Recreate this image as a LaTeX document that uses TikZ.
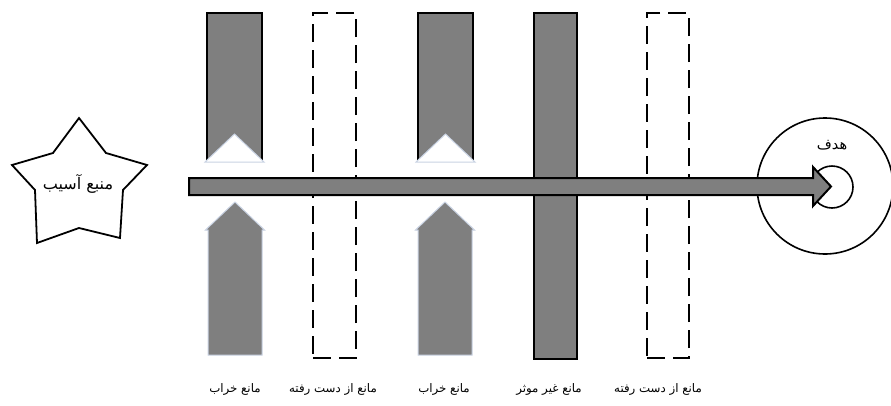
\documentclass[tikz,border=0pt]{standalone}
\usepackage{fontspec}
\usetikzlibrary{calc}
\newfontfamily\arabicfont[Script=Arabic]{DejaVu Sans}
\TeXXeTstate=1
\definecolor{bargray}{HTML}{7F7F7F}
\definecolor{edgeblue}{HTML}{C9D3E3}
\tikzset{
  topbar/.style={fill=bargray, draw=black, line width=2pt},
  notch/.style={fill=white, draw=edgeblue, line width=1pt},
  upbar/.style={fill=bargray, draw=edgeblue, line width=1pt},
  lostbox/.style={draw=black, line width=2.4pt, dash pattern=on 18pt off 8pt, fill=none},
  deadbar/.style={fill=bargray, draw=black, line width=2pt},
  mainarrow/.style={fill=bargray, draw=black, line width=2pt, line join=miter},
  ring/.style={draw=black, line width=1.6pt, fill=white},
  lab/.style={font=\arabicfont\fontsize{11.8}{14}\selectfont, inner sep=0pt},
  biglab/.style={font=\arabicfont\fontsize{14.5}{17}\selectfont, inner sep=0pt},
  starlab/.style={font=\arabicfont\fontsize{16}{19}\selectfont, inner sep=0pt}
}
\begin{document}
\begin{tikzpicture}[x=1pt,y=-1pt]
\useasboundingbox (0,0) rectangle (891,405);
% target
\node[ring, circle, minimum size=136pt, inner sep=0pt] (outer) at (825,186) {};
\node[ring, circle, minimum size=42pt, inner sep=0pt] (inner) at (832,187) {};
\node[biglab] (goal) at (832,145) {\beginR هدف\endR};
% source star
\draw[line width=1.8pt, line join=miter, fill=white]
  (79,118) -- (106,153) -- (147,165) -- (123,190) -- (120,238) -- (79,228)
  -- (37,243) -- (35,190) -- (12,165) -- (53,153) -- cycle;
\node[starlab] (src) at (78,184) {\beginR منبع آسیب\endR};
% lost barriers (dashed)
\node[lostbox, rectangle, minimum width=43pt, minimum height=345pt, inner sep=0pt] (lost1) at (334.5,185.5) {};
\node[lostbox, rectangle, minimum width=42pt, minimum height=345pt, inner sep=0pt] (lost2) at (668,185.5) {};
% ineffective barrier
\node[deadbar, rectangle, minimum width=43pt, minimum height=346pt, inner sep=0pt] (dead) at (555.5,186) {};
% broken barriers: upper parts
\node[topbar, rectangle, minimum width=55pt, minimum height=147pt, inner sep=0pt] (top1) at (234.5,86.5) {};
\node[topbar, rectangle, minimum width=55pt, minimum height=147pt, inner sep=0pt] (top2) at (445.5,86.5) {};
\foreach \t in {top1,top2}{
  \draw[notch] ($(\t.south west)+(-1,1)$) -- ($(\t.south east)+(1,1)$) -- ($(\t.south)+(0,-27)$) -- cycle;
}
% broken barriers: lower parts (arrows)
\foreach \cx/\nm in {235/low1,445/low2}{
  \coordinate (\nm) at (\cx,202);
  \draw[upbar] ($(\nm)+(-27,153)$) -- ($(\nm)+(-27,28)$) -- ($(\nm)+(-29.5,28)$) -- (\nm)
     -- ($(\nm)+(29.5,28)$) -- ($(\nm)+(27,28)$) -- ($(\nm)+(27,153)$) -- cycle;
}
% main arrow from source to target
\coordinate (as) at (189,186.5);
\coordinate (at) at (831,186.5);
\draw[mainarrow] ($(as)+(0,-8.5)$) -- ($(at)+(-18,-8.5)$) -- ($(at)+(-18,-19.5)$) -- (at)
  -- ($(at)+(-18,19.5)$) -- ($(at)+(-18,8.5)$) -- ($(as)+(0,8.5)$) -- cycle;
% labels
\node[lab] (l1) at (235,389) {\beginR مانع خراب\endR};
\node[lab] (l2) at (333,389) {\beginR مانع از دست رفته\endR};
\node[lab] (l3) at (444,389) {\beginR مانع خراب\endR};
\node[lab] (l4) at (549,389) {\beginR مانع غیر موثر\endR};
\node[lab] (l5) at (658,389) {\beginR مانع از دست رفته\endR};
\end{tikzpicture}
\end{document}
